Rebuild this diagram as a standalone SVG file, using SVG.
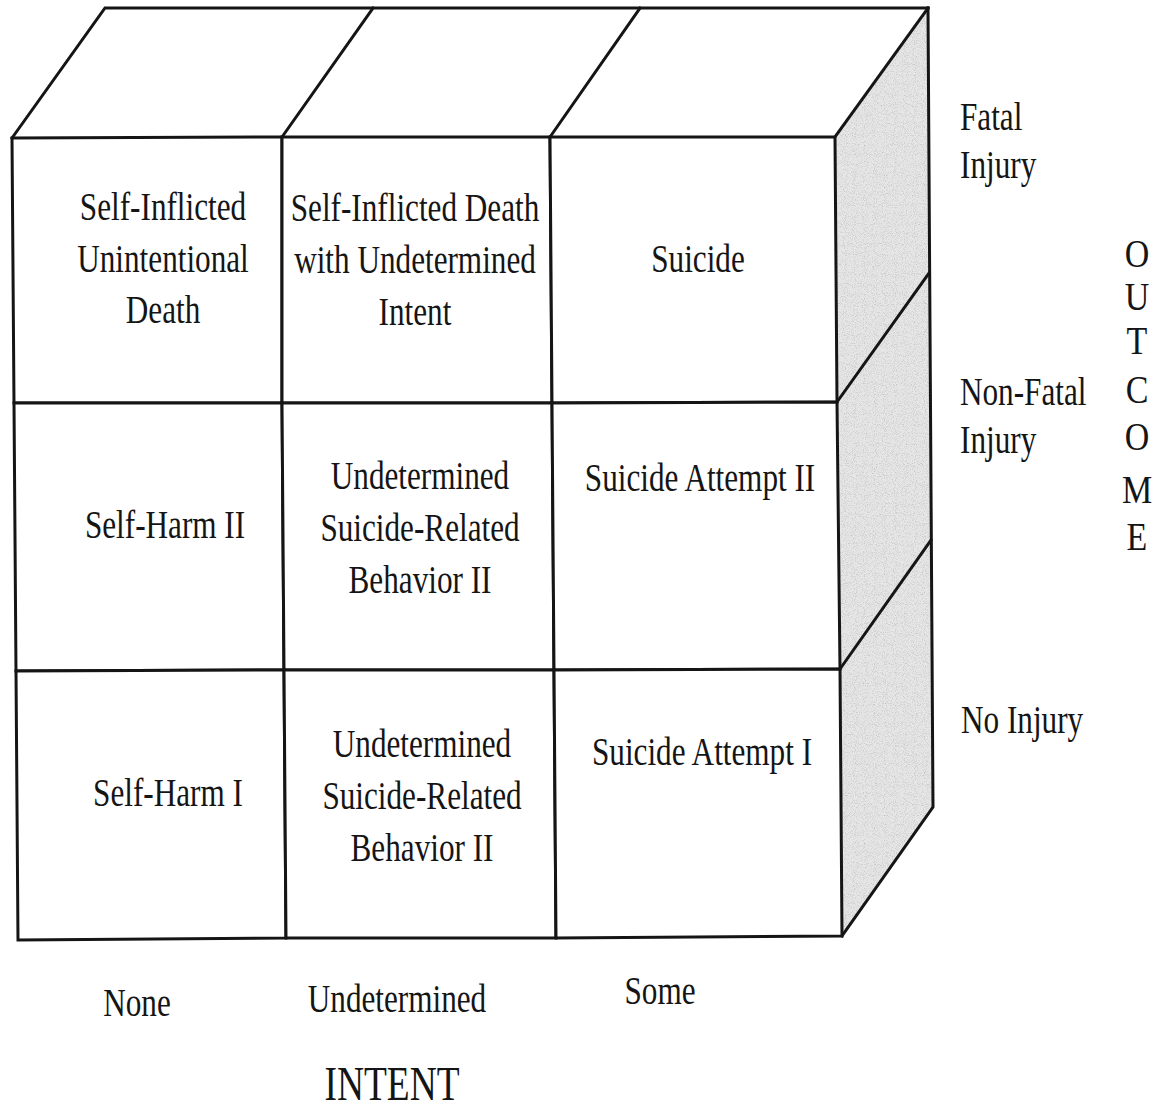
<svg xmlns="http://www.w3.org/2000/svg" width="1167" height="1108" viewBox="0 0 1167 1108">
<style>
  .edge{fill:none;stroke:#151515;stroke-width:3;stroke-linejoin:miter;stroke-linecap:square}
  .cell{fill:#ffffff;stroke:#151515;stroke-width:3}
  .top{fill:#ffffff}
  .side{fill:#e6e6e6}
  text{font-family:"Liberation Serif","Times New Roman",serif;font-size:40px;fill:#151515}
  .big{font-size:48px}
  .mid{text-anchor:middle}
</style>
<defs>
  <filter id="grain" x="0" y="0" width="100%" height="100%">
    <feTurbulence type="fractalNoise" baseFrequency="1.1" numOctaves="1" seed="7" result="n"/>
    <feColorMatrix in="n" type="matrix" values="0 0 0 0 0.45  0 0 0 0 0.45  0 0 0 0 0.45  0 0 0 2.2 -1.05" result="dots"/>
    <feComposite in="dots" in2="SourceGraphic" operator="in" result="d"/>
    <feMerge><feMergeNode in="SourceGraphic"/><feMergeNode in="d"/></feMerge>
  </filter>
</defs>
<rect width="1167" height="1108" fill="#ffffff"/>

<!-- right shaded face -->
<g id="side-face">
  <polygon class="side" filter="url(#grain)" points="835,137 928,8 933,807 842,936"/>
</g>

<!-- top face -->
<g id="top-face">
  <polygon class="top" points="12,138 105,8 928,8 835,137"/>
</g>

<!-- front cells -->
<g id="cell-r1c1"><polygon class="cell" points="12,138 282,137 282,403 14,403"/></g>
<g id="cell-r1c2"><polygon class="cell" points="282,137 550,137 552,403 282,403"/></g>
<g id="cell-r1c3"><polygon class="cell" points="550,137 835,137 837,402 552,403"/></g>
<g id="cell-r2c1"><polygon class="cell" points="14,403 282,403 284,670 16,671"/></g>
<g id="cell-r2c2"><polygon class="cell" points="282,403 552,403 554,670 284,670"/></g>
<g id="cell-r2c3"><polygon class="cell" points="552,403 837,402 840,669 554,670"/></g>
<g id="cell-r3c1"><polygon class="cell" points="16,671 284,670 286,938 18,940"/></g>
<g id="cell-r3c2"><polygon class="cell" points="284,670 554,670 556,938 286,938"/></g>
<g id="cell-r3c3"><polygon class="cell" points="554,670 840,669 842,936 556,938"/></g>

<!-- cube edges -->
<g id="connectors">
  <polyline class="edge" points="12,138 105,8 928,8"/>
  <line class="edge" x1="282" y1="137" x2="373" y2="8"/>
  <line class="edge" x1="550" y1="137" x2="640" y2="8"/>
  <line class="edge" x1="835" y1="137" x2="928" y2="8"/>
  <polyline class="edge" points="928,8 933,807 842,936"/>
  <line class="edge" x1="837" y1="402" x2="929" y2="273"/>
  <line class="edge" x1="840" y1="669" x2="931" y2="540"/>
</g>

<!-- cell labels -->
<g id="label-r1c1" transform="translate(163,0) scale(0.78,1)">
  <text class="mid" x="0" y="220">Self-Inflicted</text>
  <text class="mid" x="0" y="272">Unintentional</text>
  <text class="mid" x="0" y="323">Death</text>
</g>
<g id="label-r1c2" transform="translate(415,0) scale(0.78,1)">
  <text class="mid" x="0" y="221">Self-Inflicted Death</text>
  <text class="mid" x="0" y="273">with Undetermined</text>
  <text class="mid" x="0" y="325">Intent</text>
</g>
<g id="label-r1c3" transform="translate(698,0) scale(0.78,1)">
  <text class="mid" x="0" y="272">Suicide</text>
</g>
<g id="label-r2c1" transform="translate(165,0) scale(0.78,1)">
  <text class="mid" x="0" y="538">Self-Harm II</text>
</g>
<g id="label-r2c2" transform="translate(420,0) scale(0.78,1)">
  <text class="mid" x="0" y="489">Undetermined</text>
  <text class="mid" x="0" y="541">Suicide-Related</text>
  <text class="mid" x="0" y="593">Behavior II</text>
</g>
<g id="label-r2c3" transform="translate(700,0) scale(0.78,1)">
  <text class="mid" x="0" y="491">Suicide Attempt II</text>
</g>
<g id="label-r3c1" transform="translate(168,0) scale(0.78,1)">
  <text class="mid" x="0" y="806">Self-Harm I</text>
</g>
<g id="label-r3c2" transform="translate(422,0) scale(0.78,1)">
  <text class="mid" x="0" y="757">Undetermined</text>
  <text class="mid" x="0" y="809">Suicide-Related</text>
  <text class="mid" x="0" y="861">Behavior II</text>
</g>
<g id="label-r3c3" transform="translate(702,0) scale(0.78,1)">
  <text class="mid" x="0" y="765">Suicide Attempt I</text>
</g>

<!-- outcome axis labels -->
<g id="outcome-fatal" transform="translate(960,0) scale(0.78,1)">
  <text x="0" y="130">Fatal</text>
  <text x="0" y="178">Injury</text>
</g>
<g id="outcome-nonfatal" transform="translate(960,0) scale(0.78,1)">
  <text x="0" y="405">Non-Fatal</text>
  <text x="0" y="453">Injury</text>
</g>
<g id="outcome-none" transform="translate(961,0) scale(0.78,1)">
  <text x="0" y="733">No Injury</text>
</g>
<g id="outcome-title" transform="translate(1137,0) scale(0.85,1)">
  <text class="mid" x="0" y="267">O</text>
  <text class="mid" x="0" y="310">U</text>
  <text class="mid" x="0" y="354">T</text>
  <text class="mid" x="0" y="403">C</text>
  <text class="mid" x="0" y="450">O</text>
  <text class="mid" x="0" y="503">M</text>
  <text class="mid" x="0" y="550">E</text>
</g>

<!-- intent axis labels -->
<g id="intent-none" transform="translate(137,0) scale(0.78,1)">
  <text class="mid" x="0" y="1016">None</text>
</g>
<g id="intent-undetermined" transform="translate(397,0) scale(0.78,1)">
  <text class="mid" x="0" y="1012">Undetermined</text>
</g>
<g id="intent-some" transform="translate(660,0) scale(0.78,1)">
  <text class="mid" x="0" y="1004">Some</text>
</g>
<g id="intent-title" transform="translate(392,0) scale(0.78,1)">
  <text class="mid big" x="0" y="1100">INTENT</text>
</g>
</svg>
